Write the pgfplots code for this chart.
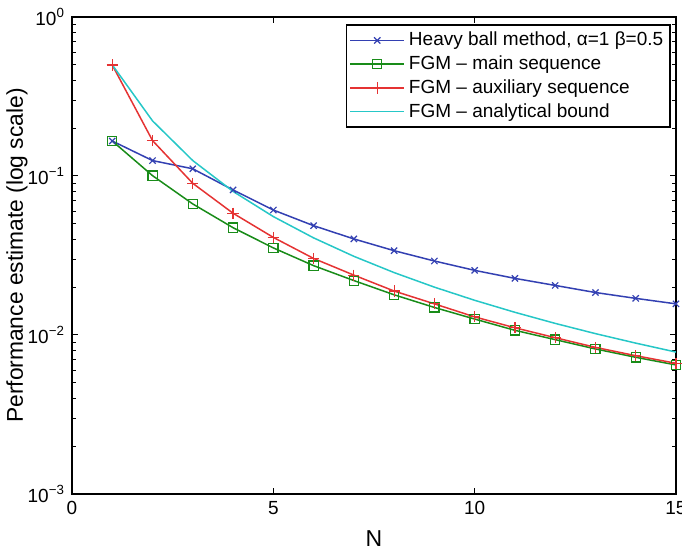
\documentclass[border=0pt]{standalone}
\usepackage{fontspec}
\setmainfont{Liberation Sans}
\usepackage{pgfplots}
\pgfplotsset{compat=1.18}
\definecolor{hbblue}{rgb}{0.2,0.25,0.7}
\definecolor{fgmgreen}{rgb}{0.1,0.55,0.1}
\definecolor{fgmred}{rgb}{0.9,0.2,0.2}
\definecolor{fgmcyan}{rgb}{0.15,0.78,0.78}
\begin{document}
\begin{tikzpicture}
\begin{axis}[
  scale only axis,
  width=302pt, height=238.5pt,
  ymode=log,
  xmin=0, xmax=15, ymin=1e-3, ymax=1,
  xtick={0,5,10,15},
  ytick={1e-3,1e-2,1e-1,1},
  yticklabels={10\textsuperscript{−3},10\textsuperscript{−2},10\textsuperscript{−1},10\textsuperscript{0}},
  /pgf/number format/assume math mode=true,
  tick label style={font=\fontsize{9.5}{10}\selectfont},
  tick align=inside,
  major tick length=3pt, minor tick length=1.8pt,
  axis line style={line width=0.8pt},
  every tick/.style={black, line width=0.5pt},
  xlabel={N}, ylabel={Performance estimate (log scale)},
  xlabel style={font=\fontsize{11.5}{12}\selectfont, yshift=-1pt},
  ylabel style={font=\fontsize{11.4}{12}\selectfont,
    at={([xshift=-27.5pt]axis description cs:0,0.5)}, anchor=center, rotate=0},
  legend style={at={(rel axis cs:0.992,0.985)}, anchor=north east,
    draw=black, line width=0.9pt, font=\fontsize{9.5}{11}\selectfont,
    inner sep=1.5pt, row sep=-0.5pt, cells={anchor=west}},
  legend image code/.code={
    \draw[mark repeat=2,mark phase=2,#1] plot coordinates {(0pt,0pt) (13.5pt,0pt) (27pt,0pt)};},
  every axis plot/.append style={line width=0.75pt},
]
\addplot[color=hbblue, mark=x, mark size=2.2pt, mark options={line width=0.6pt}] coordinates {
(1,0.166) (2,0.125) (3,0.111) (4,0.0817) (5,0.0611) (6,0.0487) (7,0.0402)
(8,0.0339) (9,0.0292) (10,0.0255) (11,0.0227) (12,0.0205) (13,0.0185) (14,0.0170) (15,0.0157)};
\addlegendentry{Heavy ball method, α=1 β=0.5}
\addplot[color=fgmgreen, mark=square, mark size=2.3pt, mark options={line width=0.6pt}] coordinates {
(1,0.166) (2,0.1005) (3,0.0667) (4,0.0473) (5,0.0353) (6,0.0273) (7,0.0220)
(8,0.0179) (9,0.0149) (10,0.0126) (11,0.0107) (12,0.00935) (13,0.00817) (14,0.00724) (15,0.00648)};
\addlegendentry{FGM – main sequence}
\addplot[color=fgmred, mark=+, mark size=2.8pt, mark options={line width=0.6pt}] coordinates {
(1,0.499) (2,0.167) (3,0.0899) (4,0.0583) (5,0.0411) (6,0.0303) (7,0.0238)
(8,0.0189) (9,0.0157) (10,0.0130) (11,0.0111) (12,0.00962) (13,0.00836) (14,0.00741) (15,0.00664)};
\addlegendentry{FGM – auxiliary sequence}
\addplot[color=fgmcyan, mark=none] coordinates {
(1,0.5) (2,0.2222) (3,0.125) (4,0.08) (5,0.05556) (6,0.04082) (7,0.03125)
(8,0.02469) (9,0.02) (10,0.01653) (11,0.01389) (12,0.01183) (13,0.01020) (14,0.00889) (15,0.00781)};
\addlegendentry{FGM – analytical bound}
\end{axis}
\pgfresetboundingbox
\path[use as bounding box] ([shift={(-36pt,-28pt)}]current axis.south west)
  rectangle ([shift={(305pt,247pt)}]current axis.south west);
\end{tikzpicture}
\end{document}
